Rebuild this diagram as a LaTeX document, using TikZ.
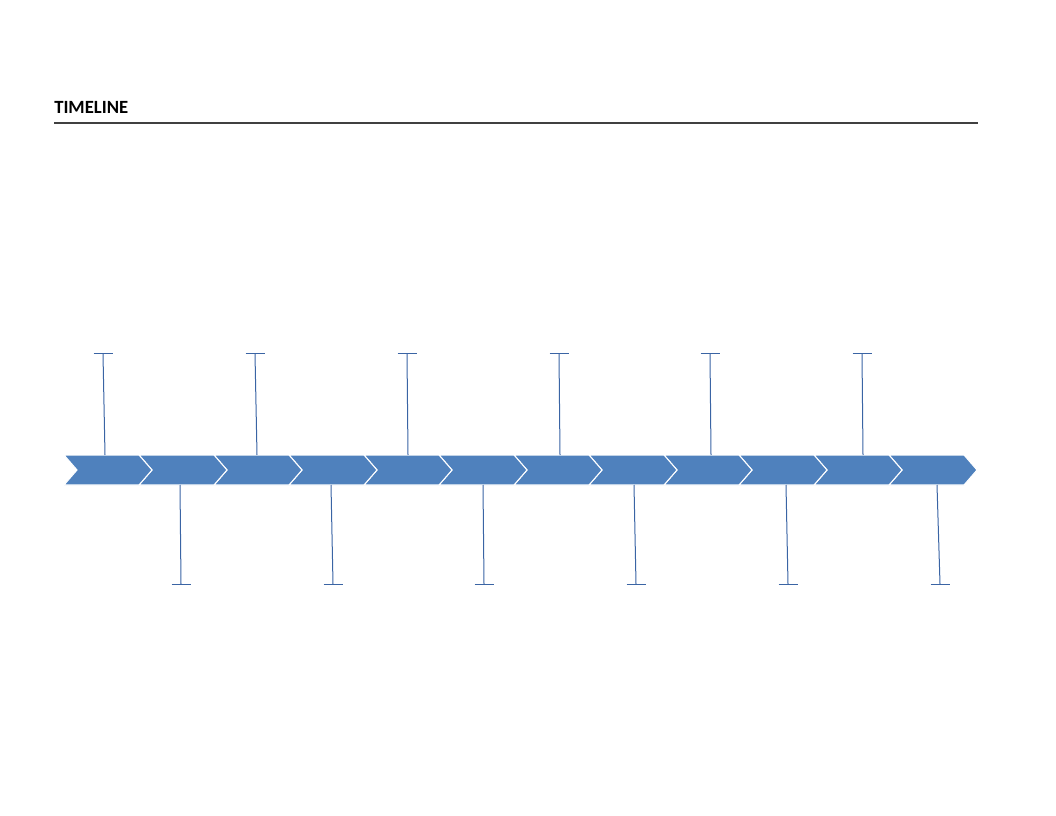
\documentclass[tikz,border=0pt]{standalone}
\usepackage{fontspec}
\setmainfont{Carlito}
\definecolor{chevfill}{HTML}{4F81BD}
\definecolor{stemcol}{HTML}{3A64A4}
\definecolor{rulecol}{HTML}{404040}
\tikzset{
  chev/.style={fill=chevfill, draw=white, line width=0.8pt, line join=miter},
  stem/.style={draw=stemcol, line width=0.75pt},
  titletext/.style={anchor=base west, inner sep=0pt, font=\bfseries\fontsize{14pt}{17pt}\selectfont},
}
\begin{document}
\begin{tikzpicture}[x=0.75pt,y=-0.75pt]
\useasboundingbox (0,0) rectangle (1056,816);
\node[titletext] (title) at (54,114) {TIMELINE};
\coordinate (ruleL) at (54,123);
\coordinate (ruleR) at (978,123);
\draw[rulecol, line width=0.8pt] (ruleL) -- (ruleR);
% chevrons (drawn right to left so earlier ones overlap)
\foreach \i in {11,...,0}{
  \pgfmathsetmacro{\xs}{64+75*\i}
  \filldraw[chev] (\xs,455) -- ({\xs+75},455) -- ({\xs+88},470) -- ({\xs+75},485) -- (\xs,485) -- ({\xs+13},470) -- cycle;
}
% upper stems
\foreach \xa/\xb [count=\k] in {103/105,255/257,407/408,559/560,710/711,862/863}{
  \coordinate (ut\k) at (\xa,354);
  \coordinate (ub\k) at (\xb,455);
  \coordinate (ucl\k) at ({\xa-9.5},354);
  \coordinate (ucr\k) at ({\xa+9.5},354);
  \draw[stem] (ub\k) -- (ut\k);
  \draw[stem] (ucl\k) -- (ucr\k);
}
% lower stems
\foreach \xa/\xb [count=\k] in {180/181,331/333,483/484,634/636,786/788,937/940}{
  \coordinate (lt\k) at (\xa,485);
  \coordinate (lb\k) at (\xb,584);
  \coordinate (lcl\k) at ({\xb-9.5},584);
  \coordinate (lcr\k) at ({\xb+9.5},584);
  \draw[stem] (lt\k) -- (lb\k);
  \draw[stem] (lcl\k) -- (lcr\k);
}
\end{tikzpicture}
\end{document}
